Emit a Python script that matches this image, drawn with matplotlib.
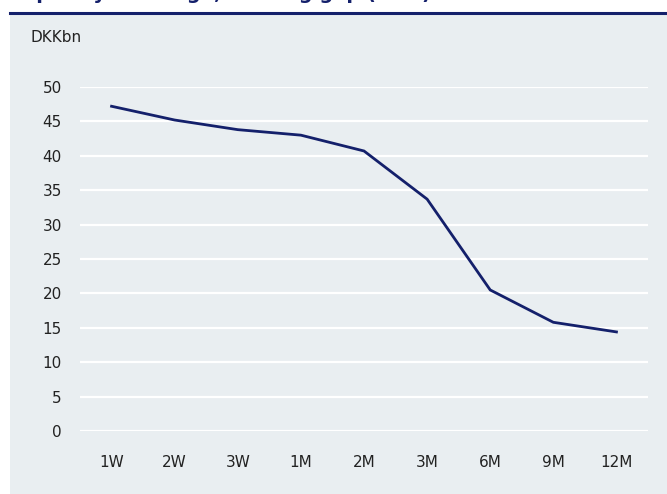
import matplotlib.pyplot as plt
from matplotlib.patches import Rectangle
from matplotlib.lines import Line2D

plt.rcParams['font.family'] = ['Liberation Sans Narrow', 'DejaVu Sans']

maturities = ['1W', '2W', '3W', '1M', '2M', '3M', '6M', '9M', '12M']
liquidity = [47.2, 45.2, 43.8, 43.0, 40.7, 33.7, 20.5, 15.8, 14.4]
yticks = [0, 5, 10, 15, 20, 25, 30, 35, 40, 45, 50]

navy = '#14206b'
panel = '#e9eef1'

fig = plt.figure(figsize=(6.67, 4.94), dpi=100)

# grey panel + navy rule under the heading
fig.patches.append(Rectangle((10 / 667, 0), 1, 480 / 494, transform=fig.transFigure,
                             facecolor=panel, edgecolor='none', zorder=-5))
fig.lines.append(Line2D([10 / 667, 1], [481 / 494, 481 / 494], transform=fig.transFigure,
                        color=navy, lw=2.2, zorder=-4))
# heading sits mostly above the top edge
fig.text(10 / 667, 1 + 1 / 494, 'Liquidity coverage, funding gap (DKK)', color=navy,
         fontsize=14, fontweight='bold', va='baseline', ha='left')
fig.text(30 / 667, 1 - 38 / 494, 'DKKbn', fontsize=11, color='#222222', va='center')

ax = fig.add_axes([80 / 667, 63 / 494, 568 / 667, 344 / 494])
ax.set_facecolor('none')
x = range(len(maturities))
ax.plot(x, liquidity, color=navy, lw=2, solid_joinstyle='miter', zorder=3)

ax.set_xlim(-0.5, len(maturities) - 0.5)
ax.set_ylim(0, 50)
ax.set_yticks(yticks)
ax.set_xticks(list(x))
ax.set_xticklabels(maturities)
ax.tick_params(axis='both', length=0, labelsize=11, labelcolor='#222222')
ax.tick_params(axis='x', pad=17)
ax.tick_params(axis='y', pad=13)
ax.grid(axis='y', color='white', lw=1.6)
ax.set_axisbelow(True)
for s in ax.spines.values():
    s.set_visible(False)

fig.savefig('out.png', dpi=100)
